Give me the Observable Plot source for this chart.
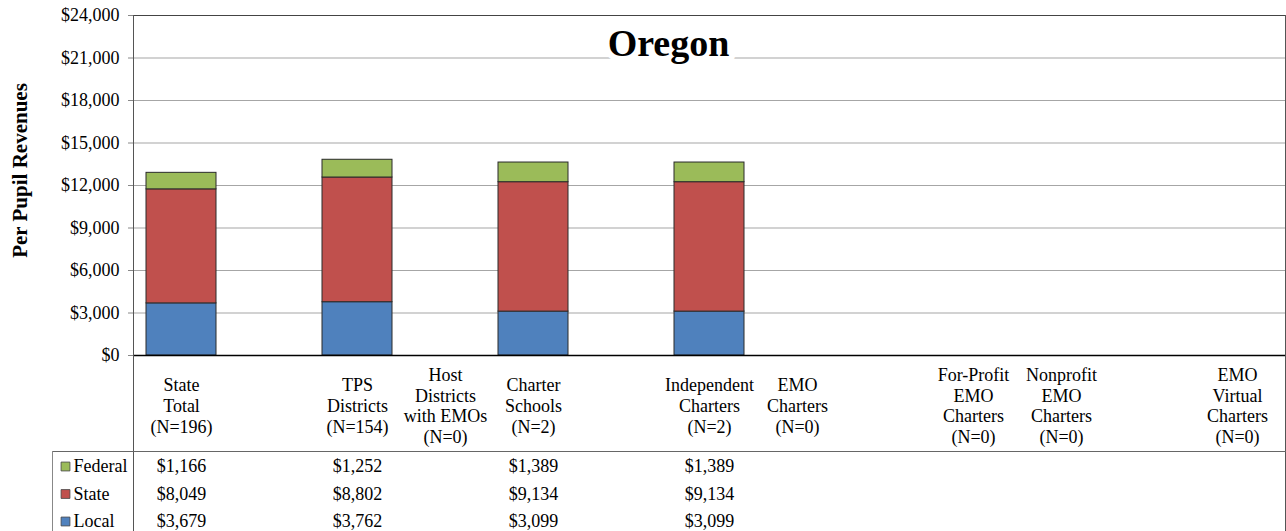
<!DOCTYPE html>
<html>
<head>
<meta charset="utf-8">
<script src="https://cdn.jsdelivr.net/npm/d3@7"></script>
<script src="https://cdn.jsdelivr.net/npm/@observablehq/plot@0.6"></script>
<style>
  html, body { margin: 0; padding: 0; background: #fff; }
</style>
</head>
<body>
<div id="chart"></div>
<script>
// ---- data ----
const title = "Oregon";
const yLabel = "Per Pupil Revenues";
const categoryLabels = [
  "State\nTotal\n(N=196)", "",
  "TPS\nDistricts\n(N=154)",
  "Host\nDistricts\nwith EMOs\n(N=0)",
  "Charter\nSchools\n(N=2)", "",
  "Independent\nCharters\n(N=2)",
  "EMO\nCharters\n(N=0)", "",
  "For-Profit\nEMO\nCharters\n(N=0)",
  "Nonprofit\nEMO\nCharters\n(N=0)", "",
  "EMO\nVirtual\nCharters\n(N=0)"
];
const localValues   = [3679, null, 3762, null, 3099, null, 3099, null, null, null, null, null, null];
const stateValues   = [8049, null, 8802, null, 9134, null, 9134, null, null, null, null, null, null];
const federalValues = [1166, null, 1252, null, 1389, null, 1389, null, null, null, null, null, null];
const sources = ["Federal", "State", "Local"];
const sourceColors = ["#9BBB59", "#C0504D", "#4F81BD"];
const yTicks = [0, 3000, 6000, 9000, 12000, 15000, 18000, 21000, 24000];

// ---- derived tables ----
const idx = d3.range(categoryLabels.length);
const seriesValues = {Federal: federalValues, State: stateValues, Local: localValues};
const rows = [];
for (const s of ["Local", "State", "Federal"]) {
  idx.forEach(i => { const v = seriesValues[s][i]; if (v != null) rows.push({i, source: s, value: v}); });
}
const labelRows = idx.filter(i => categoryLabels[i] !== "").map(i => ({i, label: categoryLabels[i]}));
const money = v => "$" + d3.format(",")(v);
const tableRow = (s) => idx.filter(i => seriesValues[s][i] != null).map(i => ({i, text: money(seriesValues[s][i])}));

const rowDy = {Federal: 111, State: 138.5, Local: 166};

const marks = [
  Plot.gridY(yTicks, {stroke: "#a6a6a6", strokeOpacity: 1, strokeWidth: 1.2}),
  Plot.text([title], {frameAnchor: "top", dx: -41, dy: 40, lineAnchor: "bottom",
    fontSize: 38, fontWeight: "bold", fill: "black", stroke: "white", strokeWidth: 12, paintOrder: "stroke"}),
  Plot.frame({anchor: "top", stroke: "#444"}),
  Plot.barY(rows, Plot.stackY({x: "i", y: "value", z: "source", fill: "source",
    order: ["Local", "State", "Federal"], stroke: "#2a2a2a", strokeWidth: 1})),
  Plot.ruleY([0], {stroke: "#000", strokeWidth: 1.5}),
  Plot.axisY(yTicks, {tickFormat: money, tickSize: 5, tickPadding: 9, fontSize: 18, stroke: "#888", fill: "black", label: null}),
  Plot.text([yLabel], {y: () => 12000, frameAnchor: "left", textAnchor: "middle", dx: -113, dy: -15, rotate: -90,
    fontSize: 21, fontWeight: "bold", fill: "black"}),
  // category labels
  Plot.text(labelRows, {x: "i", y: () => 0, text: "label", dy: 50, lineAnchor: "middle", lineHeight: 1.15, fontSize: 18, fill: "black"}),
  // table borders
  Plot.frame({anchor: "left", insetBottom: -176, stroke: "#555"}),
  Plot.frame({anchor: "right", insetBottom: -176, stroke: "#555"}),
  Plot.frame({anchor: "top", insetTop: 436, insetLeft: -81, stroke: "#666"}),
  Plot.frame({anchor: "left", insetTop: 436, insetLeft: -81, insetBottom: -176, stroke: "#888"})
];
// legend squares & labels and table values, one row per source
for (const s of sources) {
  marks.push(Plot.dot([{source: s}], {y: () => 0, fill: "source", symbol: "square", r: 5, stroke: "#444", strokeWidth: 0.8,
    frameAnchor: "left", dx: -68, dy: rowDy[s]}));
  marks.push(Plot.text([s], {y: () => 0, frameAnchor: "left", dx: -60, dy: rowDy[s], textAnchor: "start", fontSize: 18, fill: "black"}));
  marks.push(Plot.text(tableRow(s), {x: "i", y: () => 0, text: "text", dy: rowDy[s], fontSize: 18, fill: "black"}));
}

const chart = Plot.plot({
  width: 1286,
  height: 531,
  marginTop: 15,
  marginLeft: 133,
  marginRight: 1,
  marginBottom: 176,
  style: {fontFamily: "'Liberation Serif', 'Times New Roman', serif", fontSize: "18px", background: "white", color: "black", overflow: "visible"},
  x: {domain: idx, paddingInner: 0.2, paddingOuter: 0.1, axis: null},
  y: {domain: [0, 24000], axis: null},
  color: {domain: sources, range: sourceColors},
  marks
});
document.getElementById("chart").appendChild(chart);
</script>
</body>
</html>
